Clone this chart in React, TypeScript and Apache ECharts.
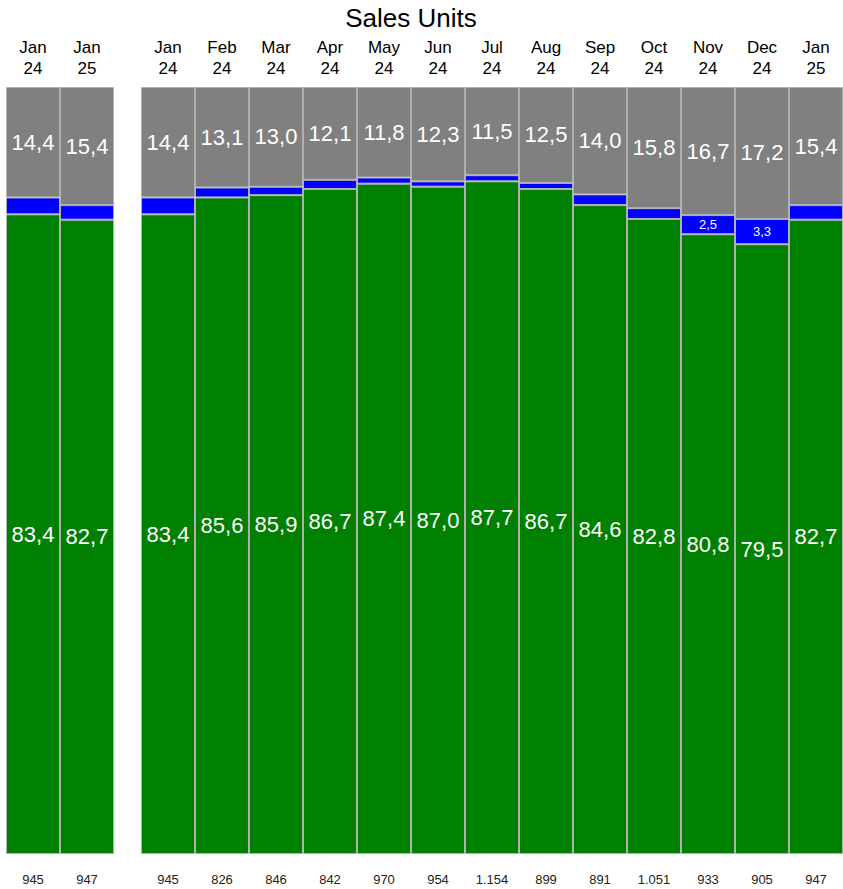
import React, { useEffect, useRef } from "react";
import * as echarts from "echarts";

const leftCategories = ["Jan\n24", "Jan\n25"];
const leftGreen = [83.4, 82.7];
const leftBlue = [2.2, 1.9];
const leftGray = [14.4, 15.4];
const leftTotals = ["945", "947"];

const rightCategories = [
  "Jan\n24", "Feb\n24", "Mar\n24", "Apr\n24", "May\n24", "Jun\n24", "Jul\n24",
  "Aug\n24", "Sep\n24", "Oct\n24", "Nov\n24", "Dec\n24", "Jan\n25",
];
const rightGreen = [83.4, 85.6, 85.9, 86.7, 87.4, 87.0, 87.7, 86.7, 84.6, 82.8, 80.8, 79.5, 82.7];
const rightBlue = [2.2, 1.3, 1.1, 1.2, 0.8, 0.7, 0.8, 0.8, 1.4, 1.4, 2.5, 3.3, 1.9];
const rightGray = [14.4, 13.1, 13.0, 12.1, 11.8, 12.3, 11.5, 12.5, 14.0, 15.8, 16.7, 17.2, 15.4];
const rightTotals = ["945", "826", "846", "842", "970", "954", "1.154", "899", "891", "1.051", "933", "905", "947"];

const FONT = "'Liberation Sans', Arial, sans-serif";
const fmt = (v: number) => v.toFixed(1).replace(".", ",");

export default function App() {
  const ref = useRef<HTMLDivElement>(null);
  useEffect(() => {
    if (!ref.current) return;
    const chart = echarts.init(ref.current, null, { renderer: "svg" });
    const grids = [
      { left: 6, top: 87, width: 108, height: 767 },
      { left: 141, top: 87, width: 702, height: 767 },
    ];
    const cats = [leftCategories, rightCategories];
    const totals = [leftTotals, rightTotals];
    const greens = [leftGreen, rightGreen];
    const blues = [leftBlue, rightBlue];
    const grays = [leftGray, rightGray];

    const xAxis: any[] = [];
    const yAxis: any[] = [];
    const series: any[] = [];
    grids.forEach((_, g) => {
      xAxis.push({
        type: "category",
        gridIndex: g,
        position: "top",
        data: cats[g],
        axisLine: { show: false },
        axisTick: { show: false },
        axisLabel: {
          fontFamily: FONT,
          fontSize: 17,
          lineHeight: 21,
          color: "#000",
          margin: 8,
          interval: 0,
        },
      });
      xAxis.push({
        type: "category",
        gridIndex: g,
        position: "bottom",
        data: totals[g],
        axisLine: { show: false },
        axisTick: { show: false },
        axisLabel: {
          fontFamily: FONT,
          fontSize: 13,
          lineHeight: 15,
          color: "#222",
          margin: 18,
          interval: 0,
        },
      });
      yAxis.push({
        type: "value",
        gridIndex: g,
        min: 0,
        max: 100,
        show: false,
      });
      const common = {
        type: "bar",
        xAxisIndex: g * 2,
        yAxisIndex: g,
        stack: "s" + g,
        barCategoryGap: "0%",
        barGap: "0%",
      };
      const border = { borderColor: "#b0b0b0", borderWidth: 1 };
      series.push({
        ...common,
        name: "green" + g,
        data: greens[g],
        itemStyle: { color: "#008000", ...border },
        label: {
          show: true,
          position: "inside",
          color: "#fff",
          fontFamily: FONT,
          fontSize: 22,
          formatter: (p: any) => fmt(p.value),
        },
      });
      series.push({
        ...common,
        name: "blue" + g,
        data: blues[g],
        itemStyle: { color: "#0000ff", ...border },
        label: {
          show: true,
          position: "inside",
          color: "#fff",
          fontFamily: FONT,
          fontSize: 13,
          formatter: (p: any) => (p.value >= 2.5 ? fmt(p.value) : ""),
        },
      });
      series.push({
        ...common,
        name: "gray" + g,
        data: grays[g],
        itemStyle: { color: "#808080", ...border },
        label: {
          show: true,
          position: "inside",
          color: "#fff",
          fontFamily: FONT,
          fontSize: 22,
          formatter: (p: any) => fmt(p.value),
        },
      });
    });

    chart.setOption({
      animation: false,
      backgroundColor: "#fff",
      grid: grids,
      xAxis,
      yAxis,
      series,
      graphic: [
        {
          type: "text",
          x: 411,
          y: 18,
          style: {
            text: "Sales Units",
            fontFamily: FONT,
            fontSize: 26,
            fill: "#000",
            textAlign: "center",
            textVerticalAlign: "middle",
          },
        },
      ],
    });
    return () => chart.dispose();
  }, []);
  return (
    <div
      ref={ref}
      style={{ position: "fixed", left: 0, top: 0, width: 843, height: 889 }}
    />
  );
}
